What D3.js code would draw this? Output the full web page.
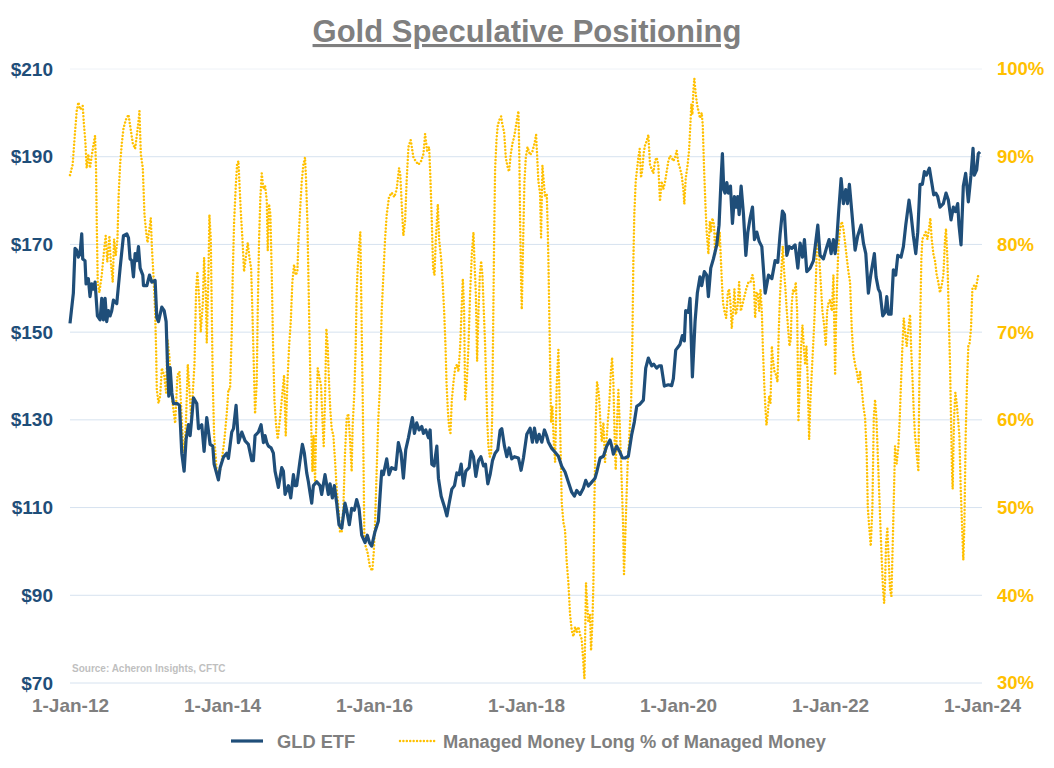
<!DOCTYPE html>
<html><head><meta charset="utf-8">
<script src="https://cdn.jsdelivr.net/npm/d3@7"></script>
<style>
html,body{margin:0;padding:0;background:#fff;}
svg text{font-family:"Liberation Sans",Arial,sans-serif;font-weight:bold;}
</style></head>
<body>
<svg id="chart" width="1054" height="768"></svg>
<script>
const title = "Gold Speculative Positioning";
const sourceNote = "Source: Acheron Insights, CFTC";
const seriesNames = ["GLD ETF", "Managed Money Long % of Managed Money"];
const leftTicks = [70, 90, 110, 130, 150, 170, 190, 210];
const rightTicks = [30, 40, 50, 60, 70, 80, 90, 100];
const xTickYears = [2012, 2014, 2016, 2018, 2020, 2022, 2024];

// GLD ETF price: [decimal year, $]
const gld = [[2012.000,152.0],[2012.044,158.9],[2012.066,169.1],[2012.088,168.7],[2012.110,167.1],[2012.132,167.9],[2012.154,172.4],[2012.167,166.7],[2012.197,166.3],[2012.211,161.0],[2012.241,162.2],[2012.263,158.1],[2012.285,161.0],[2012.307,159.8],[2012.329,161.4],[2012.360,153.7],[2012.395,152.8],[2012.417,157.7],[2012.439,152.8],[2012.461,157.7],[2012.482,152.4],[2012.504,154.9],[2012.526,153.7],[2012.548,154.9],[2012.570,157.3],[2012.614,156.5],[2012.658,164.6],[2012.702,172.0],[2012.746,172.4],[2012.768,171.5],[2012.789,166.7],[2012.811,166.3],[2012.833,162.6],[2012.855,167.9],[2012.877,166.3],[2012.899,169.5],[2012.921,164.6],[2012.956,163.0],[2012.965,160.6],[2013.009,160.6],[2013.044,163.0],[2013.075,161.4],[2013.118,161.8],[2013.140,153.3],[2013.162,152.4],[2013.206,155.7],[2013.237,154.9],[2013.263,152.4],[2013.281,142.7],[2013.298,135.4],[2013.316,141.9],[2013.338,136.2],[2013.360,133.7],[2013.412,133.7],[2013.439,133.3],[2013.469,122.4],[2013.500,118.3],[2013.526,125.6],[2013.557,128.9],[2013.579,126.4],[2013.601,130.5],[2013.623,135.0],[2013.667,133.7],[2013.689,128.0],[2013.732,128.9],[2013.763,122.8],[2013.798,130.5],[2013.842,124.4],[2013.877,124.0],[2013.895,119.9],
[2013.951,116.3],[2013.974,119.1],[2014.018,121.5],[2014.061,122.4],[2014.083,121.2],[2014.127,127.2],[2014.150,128.0],[2014.184,133.3],[2014.215,124.8],[2014.259,127.2],[2014.303,125.2],[2014.346,124.4],[2014.391,120.7],[2014.412,120.7],[2014.434,126.4],[2014.478,127.2],[2014.513,128.9],[2014.544,124.8],[2014.566,126.4],[2014.588,124.8],[2014.610,124.0],[2014.645,123.6],[2014.675,122.4],[2014.697,118.3],[2014.741,114.6],[2014.785,119.1],[2014.807,118.3],[2014.829,113.0],[2014.873,115.0],[2014.904,112.2],[2014.939,117.5],[2014.961,115.0],[2014.982,115.0],[2015.026,120.7],[2015.057,124.4],[2015.083,122.4],[2015.114,117.9],[2015.136,115.9],[2015.158,113.4],[2015.180,111.0],[2015.202,115.0],[2015.246,115.9],[2015.289,115.0],[2015.311,113.0],[2015.355,117.5],[2015.399,113.0],[2015.421,115.4],[2015.452,112.2],[2015.478,115.0],[2015.509,111.0],[2015.539,106.1],[2015.575,105.3],[2015.618,111.0],[2015.640,109.4],[2015.675,106.1],[2015.706,109.8],[2015.741,109.4],[2015.772,111.8],[2015.803,109.8],[2015.838,103.7],[2015.882,102.0],
[2015.912,103.7],[2015.940,102.0],[2015.970,101.2],[2016.013,104.5],[2016.057,106.9],[2016.079,112.6],[2016.101,118.3],[2016.123,117.5],[2016.167,121.1],[2016.197,117.5],[2016.232,119.1],[2016.285,118.7],[2016.320,124.8],[2016.355,122.4],[2016.386,116.7],[2016.417,123.2],[2016.452,125.9],[2016.504,130.5],[2016.531,126.9],[2016.561,129.3],[2016.592,127.7],[2016.627,128.5],[2016.649,126.9],[2016.680,127.7],[2016.715,125.9],[2016.737,127.7],[2016.759,119.9],[2016.789,119.5],[2016.825,124.0],[2016.846,116.7],[2016.882,112.6],[2016.925,110.2],[2016.957,108.1],[2016.987,111.0],[2017.022,114.2],[2017.057,115.0],[2017.088,117.9],[2017.118,117.5],[2017.145,119.9],[2017.175,115.0],[2017.206,118.3],[2017.250,119.1],[2017.276,122.8],[2017.307,121.6],[2017.338,117.1],[2017.373,120.7],[2017.404,121.6],[2017.439,119.5],[2017.465,119.9],[2017.496,115.4],[2017.526,117.5],[2017.557,120.7],[2017.592,122.4],[2017.627,123.2],[2017.658,127.6],[2017.680,128.0],[2017.715,124.0],[2017.746,121.6],[2017.776,123.6],[2017.811,121.1],[2017.846,121.6],
[2017.899,121.3],[2017.934,118.5],[2017.965,121.3],[2018.009,126.7],[2018.053,128.1],[2018.083,124.9],[2018.110,128.1],[2018.141,124.9],[2018.171,126.7],[2018.207,124.9],[2018.241,127.7],[2018.272,126.3],[2018.294,124.9],[2018.338,123.5],[2018.382,122.6],[2018.425,121.7],[2018.469,119.4],[2018.513,118.1],[2018.557,115.8],[2018.601,113.5],[2018.636,112.6],[2018.667,113.9],[2018.711,113.0],[2018.754,114.4],[2018.785,116.2],[2018.820,114.9],[2018.864,115.8],[2018.908,116.7],[2018.930,118.1],[2018.974,121.3],[2019.018,121.7],[2019.061,124.0],[2019.105,125.4],[2019.127,124.0],[2019.149,122.2],[2019.193,124.0],[2019.237,122.6],[2019.268,121.3],[2019.303,121.3],[2019.346,121.7],[2019.391,126.7],[2019.425,129.5],[2019.457,133.1],[2019.500,133.6],[2019.544,134.5],[2019.575,141.8],[2019.610,144.1],[2019.654,142.3],[2019.680,142.7],[2019.719,141.8],[2019.750,142.3],[2019.780,142.3],[2019.820,137.7],
[2019.873,138.0],[2019.917,137.8],[2019.939,139.4],[2019.970,145.9],[2020.026,147.2],[2020.057,149.2],[2020.083,148.0],[2020.101,154.9],[2020.136,154.5],[2020.158,157.7],[2020.189,139.8],[2020.224,152.4],[2020.254,158.9],[2020.289,162.6],[2020.311,160.6],[2020.346,163.8],[2020.378,163.0],[2020.399,158.1],[2020.430,164.6],[2020.465,166.7],[2020.509,169.9],[2020.539,174.4],[2020.566,185.0],[2020.583,190.7],[2020.601,182.5],[2020.618,181.7],[2020.641,184.1],[2020.662,181.7],[2020.689,183.3],[2020.715,174.8],[2020.741,180.9],[2020.763,178.5],[2020.785,180.9],[2020.803,176.8],[2020.829,183.3],[2020.860,176.8],[2020.891,167.5],[2020.917,172.8],[2020.947,176.0],[2020.978,178.5],[2021.004,171.1],[2021.035,172.8],[2021.066,170.7],[2021.101,169.5],[2021.145,158.9],[2021.189,163.0],[2021.233,162.2],[2021.276,166.3],[2021.311,165.9],[2021.342,172.4],[2021.372,177.6],[2021.399,176.8],[2021.430,167.5],[2021.461,169.5],[2021.496,169.1],[2021.539,169.9],[2021.575,164.6],[2021.605,170.3],[2021.636,167.1],[2021.662,171.1],[2021.693,163.8],[2021.737,164.6],[2021.781,166.3],
[2021.838,174.4],[2021.868,167.5],[2021.912,166.7],[2021.957,169.5],[2021.987,171.1],[2022.013,167.9],[2022.044,171.1],[2022.066,167.9],[2022.088,171.1],[2022.110,176.8],[2022.145,185.0],[2022.175,179.3],[2022.206,182.5],[2022.228,179.3],[2022.254,183.7],[2022.285,177.6],[2022.329,168.7],[2022.364,172.0],[2022.408,174.4],[2022.439,170.3],[2022.470,167.9],[2022.504,158.9],[2022.535,163.0],[2022.583,167.9],[2022.605,162.6],[2022.636,159.8],[2022.658,159.0],[2022.693,153.7],[2022.724,154.5],[2022.746,158.1],[2022.768,154.1],[2022.803,154.1],[2022.833,164.2],[2022.864,163.0],[2022.891,167.5],[2022.934,167.1],[2022.965,169.5],[2022.996,174.4],[2023.039,180.1],[2023.066,176.8],[2023.096,172.0],[2023.128,167.9],[2023.154,172.8],[2023.184,183.7],[2023.215,183.7],[2023.241,186.6],[2023.268,185.8],[2023.307,187.4],[2023.338,184.1],[2023.364,181.3],[2023.391,181.7],[2023.417,180.9],[2023.447,178.5],[2023.491,179.3],[2023.526,181.7],[2023.557,180.1],[2023.592,175.6],[2023.623,178.5],[2023.650,177.5],[2023.680,179.3],[2023.697,174.4],[2023.724,169.9],[2023.754,183.3],[2023.785,186.2],[2023.820,179.7],[2023.855,185.8],[2023.882,191.9],[2023.899,185.8],[2023.930,187.0],[2023.951,190.7],[2023.974,191.1]];

// Managed money long % of managed money: [decimal year, %]
const mmLong = [[2012.000,87.9],[2012.035,89.1],[2012.066,92.8],[2012.088,95.2],[2012.110,96.2],[2012.132,95.4],[2012.150,95.6],[2012.167,95.8],[2012.184,93.6],[2012.202,91.7],[2012.219,88.7],[2012.241,90.3],[2012.263,88.7],[2012.285,90.1],[2012.307,91.3],[2012.329,92.4],[2012.342,88.7],[2012.351,82.6],[2012.364,75.7],[2012.386,74.5],[2012.417,76.5],[2012.447,79.3],[2012.469,81.0],[2012.490,78.0],[2012.518,81.0],[2012.535,78.1],[2012.561,75.7],[2012.579,80.6],[2012.601,78.7],[2012.623,80.6],[2012.640,85.9],[2012.658,89.1],[2012.680,91.5],[2012.702,93.2],[2012.733,94.2],[2012.768,94.8],[2012.789,93.6],[2012.825,91.5],[2012.855,90.9],[2012.877,92.4],[2012.899,94.0],[2012.912,95.2],[2012.930,90.3],[2012.956,88.7],[2012.978,83.4],[2013.000,81.4],[2013.018,80.2],[2013.044,81.8],[2013.061,83.0],[2013.075,79.8],[2013.096,76.5],[2013.118,72.4],[2013.132,67.6],[2013.140,63.5],[2013.162,61.9],[2013.184,62.7],[2013.206,65.9],[2013.237,65.1],[2013.263,63.1],[2013.281,69.2],[2013.307,67.1],[2013.325,63.5],[2013.382,59.6],[2013.412,65.1],[2013.439,65.5],[2013.456,62.3],[2013.482,57.8],[2013.504,56.2],[2013.526,60.2],[2013.548,66.3],[2013.570,63.5],[2013.592,60.2],[2013.614,63.1],[2013.636,66.3],[2013.658,74.9],[2013.675,76.9],[2013.702,73.3],[2013.719,70.0],[2013.746,73.3],[2013.763,78.5],[2013.785,74.5],[2013.798,68.8],[2013.820,76.5],[2013.833,83.4],[2013.851,80.6],[2013.864,72.4],[2013.877,64.3],[2013.895,58.2],
[2013.930,54.1],[2013.961,53.7],[2013.996,55.4],[2014.031,57.8],[2014.061,60.7],[2014.083,63.5],[2014.105,63.5],[2014.127,70.0],[2014.140,76.5],[2014.158,82.6],[2014.180,86.7],[2014.197,89.1],[2014.215,89.5],[2014.228,87.1],[2014.246,83.8],[2014.268,80.6],[2014.289,76.9],[2014.312,78.5],[2014.338,80.2],[2014.360,78.5],[2014.382,77.3],[2014.399,72.4],[2014.417,66.3],[2014.434,60.7],[2014.456,64.3],[2014.469,72.4],[2014.487,80.6],[2014.504,85.4],[2014.522,88.1],[2014.544,86.3],[2014.566,86.7],[2014.588,85.0],[2014.601,79.3],[2014.618,84.6],[2014.636,83.4],[2014.654,76.5],[2014.671,68.4],[2014.689,62.3],[2014.711,59.4],[2014.733,57.8],[2014.763,60.2],[2014.794,63.1],[2014.816,65.1],[2014.838,58.2],[2014.860,64.3],[2014.882,68.4],[2014.904,71.2],[2014.925,75.7],[2014.947,77.7],[2014.970,76.5],[2014.991,76.9],[2015.004,80.2],[2015.026,83.8],[2015.048,87.1],[2015.070,89.1],[2015.092,89.9],[2015.105,87.5],[2015.123,82.6],[2015.136,76.5],[2015.154,68.4],[2015.171,60.2],[2015.189,54.1],[2015.206,58.2],[2015.224,52.9],[2015.241,60.2],[2015.259,65.9],[2015.276,65.1],[2015.303,63.9],[2015.320,60.2],[2015.338,57.0],[2015.355,62.3],[2015.373,70.4],[2015.390,68.4],[2015.408,64.3],[2015.425,61.1],[2015.443,59.0],[2015.465,58.2],[2015.487,55.4],[2015.509,52.1],[2015.531,50.1],[2015.553,47.2],[2015.575,47.2],[2015.597,50.1],[2015.618,56.2],[2015.640,60.2],[2015.662,60.7],[2015.684,57.8],[2015.706,54.1],[2015.719,59.4],[2015.741,63.1],[2015.759,68.4],[2015.772,74.5],[2015.785,77.3],[2015.803,79.8],[2015.820,81.4],[2015.838,70.4],[2015.855,60.2],[2015.873,46.8],[2015.890,45.6],[2015.917,44.8],[2015.947,43.2],[2015.978,42.8],[2015.996,44.8],[2016.013,48.0],[2016.035,54.1],[2016.057,60.2],
[2016.079,64.0],[2016.101,72.4],[2016.123,76.5],[2016.145,80.6],[2016.167,83.4],[2016.197,85.4],[2016.232,85.9],[2016.267,85.4],[2016.298,86.3],[2016.329,88.7],[2016.346,87.9],[2016.364,84.6],[2016.386,81.0],[2016.408,82.6],[2016.430,87.5],[2016.452,91.1],[2016.482,91.9],[2016.518,89.9],[2016.548,89.5],[2016.583,89.1],[2016.618,89.5],[2016.649,90.3],[2016.671,92.6],[2016.697,90.7],[2016.724,91.1],[2016.741,87.5],[2016.759,82.6],[2016.776,77.3],[2016.794,76.5],[2016.812,80.6],[2016.838,84.6],[2016.855,80.6],[2016.882,78.3],[2016.904,75.3],[2016.921,72.4],[2016.939,68.4],[2016.952,64.3],[2016.970,61.1],[2016.987,59.0],[2017.004,58.5],[2017.022,62.3],[2017.044,64.3],[2017.066,65.9],[2017.088,66.3],[2017.110,65.5],[2017.132,68.4],[2017.154,73.3],[2017.167,76.1],[2017.184,72.4],[2017.197,62.3],[2017.219,64.3],[2017.241,68.4],[2017.263,74.5],[2017.285,78.9],[2017.307,81.4],[2017.320,78.1],[2017.338,74.5],[2017.355,66.7],[2017.373,72.4],[2017.391,76.5],[2017.408,78.1],[2017.425,76.5],[2017.443,72.4],[2017.461,68.4],[2017.474,64.3],[2017.487,60.2],[2017.504,57.0],[2017.522,55.8],[2017.539,56.2],[2017.553,60.2],[2017.566,70.4],[2017.579,80.6],[2017.592,88.7],[2017.610,91.9],[2017.627,93.6],[2017.649,94.2],[2017.671,94.6],[2017.689,93.6],[2017.711,92.8],[2017.733,89.9],[2017.759,88.7],[2017.776,88.3],[2017.798,90.3],[2017.820,91.5],[2017.846,92.4],
[2017.877,94.1],[2017.899,95.2],[2017.912,89.5],[2017.921,82.6],[2017.934,75.8],[2017.943,72.6],[2017.961,80.3],[2017.978,87.2],[2017.996,89.9],[2018.018,91.1],[2018.053,90.2],[2018.083,90.6],[2018.110,91.5],[2018.132,92.5],[2018.149,89.5],[2018.162,87.2],[2018.184,85.8],[2018.197,80.8],[2018.215,89.0],[2018.232,87.2],[2018.250,85.4],[2018.272,85.8],[2018.285,81.7],[2018.294,78.0],[2018.307,71.2],[2018.320,64.3],[2018.329,59.7],[2018.346,61.6],[2018.364,57.5],[2018.382,55.2],[2018.404,64.3],[2018.425,68.0],[2018.447,59.7],[2018.469,50.6],[2018.491,48.3],[2018.513,47.4],[2018.535,43.8],[2018.557,41.4],[2018.579,37.8],[2018.601,36.0],[2018.623,35.3],[2018.645,36.4],[2018.667,35.8],[2018.689,36.4],[2018.711,35.5],[2018.732,35.0],[2018.754,32.3],[2018.768,30.5],[2018.776,34.6],[2018.789,41.4],[2018.803,39.2],[2018.820,36.9],[2018.842,37.8],[2018.855,33.7],[2018.873,36.9],[2018.886,41.4],[2018.899,50.6],[2018.917,59.7],[2018.934,64.3],[2018.952,63.4],[2018.965,62.0],[2018.978,59.7],[2018.996,57.5],[2019.018,59.7],[2019.039,55.2],[2019.057,57.5],[2019.075,59.7],[2019.096,62.0],[2019.114,65.2],[2019.132,67.1],[2019.149,64.3],[2019.167,57.5],[2019.180,54.3],[2019.197,59.7],[2019.215,63.4],[2019.232,59.7],[2019.246,56.1],[2019.259,52.9],[2019.276,48.3],[2019.289,42.4],[2019.303,46.0],[2019.320,50.6],[2019.338,55.2],[2019.355,57.5],[2019.368,59.7],[2019.382,61.6],[2019.399,68.9],[2019.412,78.0],[2019.425,83.5],[2019.443,87.2],[2019.461,88.6],[2019.478,89.9],[2019.496,90.9],[2019.513,87.6],[2019.531,88.6],[2019.548,90.4],[2019.566,91.3],[2019.588,91.8],[2019.610,92.5],[2019.632,89.0],[2019.654,88.6],[2019.675,88.1],[2019.697,89.5],[2019.719,89.9],[2019.741,89.0],[2019.763,84.9],[2019.785,87.2],[2019.807,86.3],
[2019.829,87.1],[2019.873,89.5],[2019.895,90.1],[2019.917,89.9],[2019.939,89.5],[2019.961,89.9],[2019.983,90.7],[2020.004,89.3],[2020.026,88.7],[2020.048,87.9],[2020.070,86.3],[2020.083,84.6],[2020.101,87.5],[2020.127,89.1],[2020.145,90.7],[2020.162,93.6],[2020.175,96.0],[2020.189,94.8],[2020.202,97.6],[2020.215,98.9],[2020.232,97.2],[2020.250,96.0],[2020.268,95.2],[2020.289,94.4],[2020.311,95.0],[2020.325,93.6],[2020.342,88.7],[2020.360,84.6],[2020.377,81.4],[2020.399,78.9],[2020.417,82.6],[2020.435,81.4],[2020.452,83.0],[2020.474,82.2],[2020.487,78.9],[2020.509,81.4],[2020.531,79.8],[2020.548,81.4],[2020.566,77.7],[2020.579,75.3],[2020.592,73.3],[2020.610,72.4],[2020.632,71.6],[2020.654,74.5],[2020.671,74.9],[2020.689,73.3],[2020.706,70.4],[2020.724,72.4],[2020.741,74.9],[2020.759,72.0],[2020.781,72.8],[2020.803,75.7],[2020.825,72.4],[2020.851,73.3],[2020.873,74.1],[2020.895,74.9],[2020.925,75.7],[2020.952,75.7],[2020.978,76.5],[2020.996,75.7],[2021.013,71.6],[2021.031,74.5],[2021.048,74.5],[2021.066,72.4],[2021.083,74.9],[2021.101,72.4],[2021.114,68.4],[2021.132,64.3],[2021.145,61.9],[2021.162,59.4],[2021.180,60.7],[2021.197,62.7],[2021.215,61.9],[2021.233,68.4],[2021.250,66.7],[2021.268,65.5],[2021.289,65.1],[2021.307,64.3],[2021.325,70.4],[2021.342,74.5],[2021.360,77.3],[2021.377,79.8],[2021.395,76.9],[2021.412,74.9],[2021.430,72.4],[2021.447,70.4],[2021.465,68.4],[2021.482,69.2],[2021.496,73.3],[2021.513,74.9],[2021.531,74.5],[2021.548,75.7],[2021.566,72.4],[2021.583,59.8],[2021.601,64.3],[2021.618,68.4],[2021.636,70.8],[2021.654,68.4],[2021.671,66.3],[2021.689,68.4],[2021.706,64.3],[2021.724,57.8],[2021.741,62.3],[2021.759,65.5],[2021.776,68.4],[2021.794,71.6],
[2021.812,75.7],[2021.829,80.6],[2021.846,81.4],[2021.860,78.1],[2021.882,74.9],[2021.899,72.4],[2021.921,70.8],[2021.943,68.4],[2021.961,72.4],[2021.978,73.3],[2022.000,73.7],[2022.022,72.4],[2022.044,76.5],[2022.066,65.1],[2022.079,71.6],[2022.096,76.5],[2022.110,79.8],[2022.132,81.8],[2022.154,82.6],[2022.175,81.8],[2022.197,80.2],[2022.219,78.5],[2022.241,76.9],[2022.263,75.7],[2022.285,70.4],[2022.307,67.5],[2022.329,66.3],[2022.351,65.5],[2022.373,64.3],[2022.395,65.5],[2022.417,63.5],[2022.439,61.5],[2022.461,60.2],[2022.482,56.2],[2022.496,50.1],[2022.513,48.0],[2022.535,45.6],[2022.557,50.1],[2022.575,60.2],[2022.592,62.3],[2022.610,60.2],[2022.627,56.2],[2022.645,52.1],[2022.662,48.0],[2022.680,44.0],[2022.697,40.7],[2022.711,39.1],[2022.724,41.5],[2022.737,46.0],[2022.754,47.6],[2022.772,44.0],[2022.789,40.7],[2022.807,39.9],[2022.825,46.0],[2022.842,52.1],[2022.855,57.0],[2022.877,55.0],[2022.899,57.0],[2022.917,60.2],[2022.934,64.3],[2022.952,68.4],[2022.970,71.6],[2022.987,70.0],[2023.009,68.4],[2023.031,70.4],[2023.053,72.0],[2023.066,68.4],[2023.083,65.1],[2023.101,61.1],[2023.118,58.2],[2023.140,56.2],[2023.162,54.1],[2023.175,64.3],[2023.189,72.4],[2023.202,78.5],[2023.215,80.6],[2023.237,81.0],[2023.259,81.4],[2023.281,80.6],[2023.303,81.8],[2023.320,83.0],[2023.338,80.6],[2023.360,78.9],[2023.382,78.1],[2023.404,76.5],[2023.425,75.7],[2023.447,74.5],[2023.469,75.3],[2023.491,76.5],[2023.513,80.6],[2023.526,81.8],[2023.544,78.5],[2023.561,72.4],[2023.579,66.3],[2023.592,60.2],[2023.605,54.1],[2023.614,52.1],[2023.632,60.2],[2023.649,63.1],[2023.667,61.9],[2023.684,60.2],[2023.702,58.2],[2023.720,52.1],[2023.737,48.0],[2023.754,44.0],[2023.768,48.0],[2023.785,58.2],[2023.803,64.3],[2023.820,68.4],[2023.838,68.8],[2023.855,70.4],[2023.873,74.9],[2023.895,75.3],[2023.917,74.9],[2023.934,75.7],[2023.951,76.5]];

function toDate(y){
  const yr = Math.floor(y);
  const a = new Date(yr,0,1), b = new Date(yr+1,0,1);
  return new Date(+a + (y-yr)*(b-a));
}

const BLUE = "#1F4E79", GOLD = "#FFC000", GRAY = "#7F7F7F";
const svg = d3.select("#chart");
const L = 70, R = 982, T = 69, B = 683;

const x = d3.scaleTime().domain([new Date(2012,0,1), new Date(2024,0,1)]).range([L, R]);
const yL = d3.scaleLinear().domain([70,210]).range([B, T]);
const yR = d3.scaleLinear().domain([30,100]).range([B, T]);

// gridlines
svg.append("g").selectAll("line").data(leftTicks).join("line")
  .attr("x1", L).attr("x2", R)
  .attr("y1", d => yL(d)).attr("y2", d => yL(d))
  .attr("stroke", (d,i) => i === leftTicks.length-1 ? "#EEF2F7" : "#D6E2EF").attr("stroke-width", 1);

// title
svg.append("text").attr("x", 527).attr("y", 42).attr("text-anchor","middle")
  .attr("fill", GRAY).attr("font-size", 31).attr("text-decoration","underline").text(title);

// left axis
const axL = svg.append("g").attr("transform", `translate(${L},0)`)
  .call(d3.axisLeft(yL).tickValues(leftTicks).tickSize(0).tickPadding(17).tickFormat(d => "$" + d));
axL.select(".domain").remove();
axL.selectAll("text").attr("fill", BLUE).attr("font-size", 19).attr("font-family", null);

// right axis
const axR = svg.append("g").attr("transform", `translate(${R},0)`)
  .call(d3.axisRight(yR).tickValues(rightTicks).tickSize(0).tickPadding(15).tickFormat(d => d + "%"));
axR.select(".domain").remove();
axR.selectAll("text").attr("fill", GOLD).attr("font-size", 18.5).attr("font-family", null);

// x axis
const fmt = d3.timeFormat("%-d-%b-%y");
const axX = svg.append("g").attr("transform", `translate(0,${B})`)
  .call(d3.axisBottom(x).tickValues(xTickYears.map(y => new Date(y,0,1))).tickSize(0).tickPadding(16).tickFormat(fmt));
axX.select(".domain").remove();
axX.selectAll("text").attr("fill", GRAY).attr("font-size", 19).attr("font-family", null);

// source
svg.append("text").attr("x", 72).attr("y", 672).attr("fill", "#BFBFBF")
  .attr("font-size", 10).attr("font-weight","normal").text(sourceNote);

// lines
const lineMM = d3.line().x(d => x(toDate(d[0]))).y(d => yR(d[1]));
const lineG = d3.line().x(d => x(toDate(d[0]))).y(d => yL(d[1]));

svg.append("path").datum(mmLong).attr("d", lineMM)
  .attr("fill","none").attr("stroke", GOLD).attr("stroke-width", 2.5)
  .attr("stroke-linecap","round").attr("stroke-dasharray","0.01 3.4");

svg.append("path").datum(gld).attr("d", lineG)
  .attr("fill","none").attr("stroke", BLUE).attr("stroke-width", 3.2)
  .attr("stroke-linejoin","round");

// legend
const lg = svg.append("g");
lg.append("line").attr("x1", 231).attr("x2", 263).attr("y1", 741).attr("y2", 741)
  .attr("stroke", BLUE).attr("stroke-width", 3.2);
lg.append("text").attr("x", 277).attr("y", 748).attr("fill", GRAY).attr("font-size", 18.3).text(seriesNames[0]);
lg.append("line").attr("x1", 400).attr("x2", 436).attr("y1", 741).attr("y2", 741)
  .attr("stroke", GOLD).attr("stroke-width", 2.5).attr("stroke-linecap","round").attr("stroke-dasharray","0.01 3.4");
lg.append("text").attr("x", 443).attr("y", 748).attr("fill", GRAY).attr("font-size", 18.3).text(seriesNames[1]);
</script>
</body></html>
